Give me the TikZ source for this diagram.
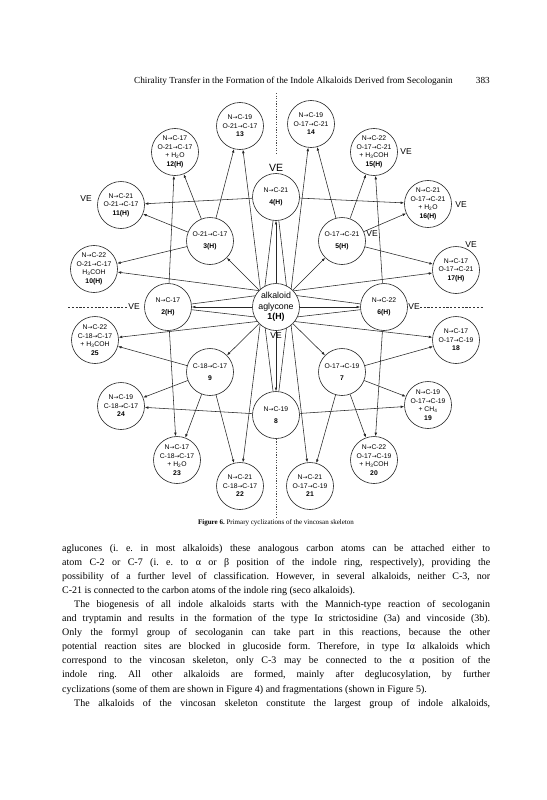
\documentclass[tikz,border=0pt]{standalone}
\usepackage{fontspec}
\setmainfont{Liberation Serif}
\setsansfont{Liberation Sans}
\newfontfamily\arrfont{DejaVu Sans}
\usetikzlibrary{arrows.meta}
\pgfdeclarelayer{back}
\pgfdeclarelayer{bg}
\pgfsetlayers{back,bg,main}
\newcommand{\sub}[1]{\textsubscript{#1}}
\newcommand{\myarr}{{\arrfont\fontsize{5.8}{6}\selectfont →}}
\frenchspacing
\begin{document}
\begin{tikzpicture}[x=1pt,y=-1pt,
  cn/.style={circle,draw=black!85,line width=0.6pt,fill=white,minimum size=47pt,inner sep=0pt,align=center,
    font=\sffamily\fontsize{6.8}{8.6}\selectfont},
  bigcn/.style={cn,font=\sffamily\fontsize{8.8}{10.5}\selectfont},
  arr/.style={draw=black!85,line width=0.55pt,-{Latex[length=3.6pt,width=2.6pt]}},
  ve/.style={inner sep=0pt,font=\sffamily\fontsize{8.5}{9}\selectfont},
  bigve/.style={inner sep=0pt,font=\sffamily\fontsize{10.5}{11}\selectfont},
  dashl/.style={draw=black!80,line width=0.5pt,dash pattern=on 2.2pt off 1.6pt},
  dotl/.style={draw=black!70,line width=0.5pt,dash pattern=on 1.2pt off 1.4pt},
  body/.style={anchor=base west,inner sep=0pt,font=\fontsize{10}{12}\selectfont},
]
\useasboundingbox (0,0) rectangle (546,800);
\begin{pgfonlayer}{back}
\fill[white] (0,0) rectangle (546,800);
\end{pgfonlayer}

% header
\node[anchor=base west,inner sep=0pt,font=\fontsize{9.25}{10}\selectfont] (hdr) at (134,83)
  {Chirality Transfer in the Formation of the Indole Alkaloids Derived from Secologanin};
\node[anchor=base east,inner sep=0pt,font=\fontsize{9.25}{10}\selectfont] (pg) at (490,83) {383};

% nodes
\node[bigcn] (n1) at (276,307) {alkaloid\\aglycone\\\textbf{1(H)}};
\node[cn] (n2) at (168,307) {N\myarr C-17\\[4pt]\textbf{2(H)}};
\node[cn] (n3) at (210,241) {O-21\myarr C-17\\[4pt]\textbf{3(H)}};
\node[cn] (n4) at (276,197) {N\myarr C-21\\[4pt]\textbf{4(H)}};
\node[cn] (n5) at (342,241) {O-17\myarr C-21\\[4pt]\textbf{5(H)}};
\node[cn] (n6) at (384,307) {N\myarr C-22\\[4pt]\textbf{6(H)}};
\node[cn] (n7) at (342,372) {O-17\myarr C-19\\[4pt]\textbf{7}};
\node[cn] (n8) at (276,415) {N\myarr C-19\\[4pt]\textbf{8}};
\node[cn] (n9) at (210,372) {C-18\myarr C-17\\[4pt]\textbf{9}};
\node[cn] (n10) at (94,269) {N\myarr C-22\\O-21\myarr C-17\\H\sub{3}COH\\\textbf{10(H)}};
\node[cn] (n11) at (121,205) {N\myarr C-21\\O-21\myarr C-17\\\textbf{11(H)}};
\node[cn] (n12) at (175,152) {N\myarr C-17\\O-21\myarr C-17\\+ H\sub{2}O\\\textbf{12(H)}};
\node[cn] (n13) at (240,126) {N\myarr C-19\\O-21\myarr C-17\\\textbf{13}};
\node[cn] (n14) at (311,124) {N\myarr C-19\\O-17\myarr C-21\\\textbf{14}};
\node[cn] (n15) at (374,152) {N\myarr C-22\\O-17\myarr C-21\\+ H\sub{3}COH\\\textbf{15(H)}};
\node[cn] (n16) at (428,204) {N\myarr C-21\\O-17\myarr C-21\\+ H\sub{2}O\\\textbf{16(H)}};
\node[cn] (n17) at (456,270) {N\myarr C-17\\O-17\myarr C-21\\\textbf{17(H)}};
\node[cn] (n18) at (456,340) {N\myarr C-17\\O-17\myarr C-19\\\textbf{18}};
\node[cn] (n19) at (428,405) {N\myarr C-19\\O-17\myarr C-19\\+ CH\sub{4}\\\textbf{19}};
\node[cn] (n20) at (374,460) {N\myarr C-22\\O-17\myarr C-19\\+ H\sub{3}COH\\\textbf{20}};
\node[cn] (n21) at (310,486) {N\myarr C-21\\O-17\myarr C-19\\\textbf{21}};
\node[cn] (n22) at (240,486) {N\myarr C-21\\C-18\myarr C-17\\\textbf{22}};
\node[cn] (n23) at (177,460) {N\myarr C-17\\C-18\myarr C-17\\+ H\sub{2}O\\\textbf{23}};
\node[cn] (n24) at (121,406) {N\myarr C-19\\C-18\myarr C-17\\\textbf{24}};
\node[cn] (n25) at (95,340) {N\myarr C-22\\C-18\myarr C-17\\+ H\sub{3}COH\\\textbf{25}};

% VE labels
\node[bigve] (ve4) at (276,168) {VE};
\node[ve] (ve1) at (276,336) {VE};
\node[ve] (ve11) at (86,199) {VE};
\node[ve] (ve15) at (406,152) {VE};
\node[ve] (ve16) at (461,205) {VE};
\node[ve] (ve17) at (471,245) {VE};
\node[ve] (ve5) at (372,234) {VE};
\node[ve] (ve2) at (134,307) {VE};
\node[ve] (ve6) at (414,307) {VE};

\coordinate (dl) at (68,307);
\coordinate (dr) at (484,307);
\coordinate (tt) at (276,93);
\coordinate (tb) at (276,155);
\coordinate (bb) at (276,518);

\begin{pgfonlayer}{bg}
  \foreach \s/\t in {1/2,1/3,1/4,1/5,1/6,1/7,1/8,1/9,
      3/10,3/11,3/12,3/13, 5/14,5/15,5/16,5/17,
      7/18,7/19,7/20,7/21, 9/22,9/23,9/24,9/25,
      2/12,2/17,2/18,2/23, 4/11,4/16,4/21,4/22,
      6/10,6/15,6/20,6/25, 8/13,8/14,8/19,8/24}
    \draw[arr] (n\s) -- (n\t);
  \draw[dashl] (dl) -- (ve2.west);
  \draw[dashl] (ve6.east) -- (dr);
  \draw[dotl] (tt) -- (tb);
  \draw[dotl] (n8.south) -- (bb);
\end{pgfonlayer}

% caption
\node[anchor=base,inner sep=0pt,font=\fontsize{7}{8}\selectfont] (cap) at (276,524)
  {\textbf{Figure 6.} Primary cyclizations of the vincosan skeleton};

% body text
\node[body] (l1) at (62,551) {\makebox[428pt][s]{aglucones (i. e. in most alkaloids) these analogous carbon atoms can be attached either to}};
\node[body] (l2) at (62,565.1) {\makebox[428pt][s]{atom C-2 or C-7 (i. e. to α or β position of the indole ring, respectively), providing the}};
\node[body] (l3) at (62,579.2) {\makebox[428pt][s]{possibility of a further level of classification. However, in several alkaloids, neither C-3, nor}};
\node[body] (l4) at (62,593.3) {C-21 is connected to the carbon atoms of the indole ring (seco alkaloids).};
\node[body] (l5) at (74,607.4) {\makebox[416pt][s]{The biogenesis of all indole alkaloids starts with the Mannich-type reaction of secologanin}};
\node[body] (l6) at (62,621.5) {\makebox[428pt][s]{and tryptamin and results in the formation of the type Iα strictosidine (3a) and vincoside (3b).}};
\node[body] (l7) at (62,635.6) {\makebox[428pt][s]{Only the formyl group of secologanin can take part in this reactions, because the other}};
\node[body] (l8) at (62,649.7) {\makebox[428pt][s]{potential reaction sites are blocked in glucoside form. Therefore, in type Iα alkaloids which}};
\node[body] (l9) at (62,663.8) {\makebox[428pt][s]{correspond to the vincosan skeleton, only C-3 may be connected to the α position of the}};
\node[body] (l10) at (62,677.9) {\makebox[428pt][s]{indole ring. All other alkaloids are formed, mainly after deglucosylation, by further}};
\node[body] (l11) at (62,692) {cyclizations (some of them are shown in Figure 4) and fragmentations (shown in Figure 5).};
\node[body] (l12) at (74,706.1) {\makebox[416pt][s]{The alkaloids of the vincosan skeleton constitute the largest group of indole alkaloids,}};
\end{tikzpicture}
\end{document}
